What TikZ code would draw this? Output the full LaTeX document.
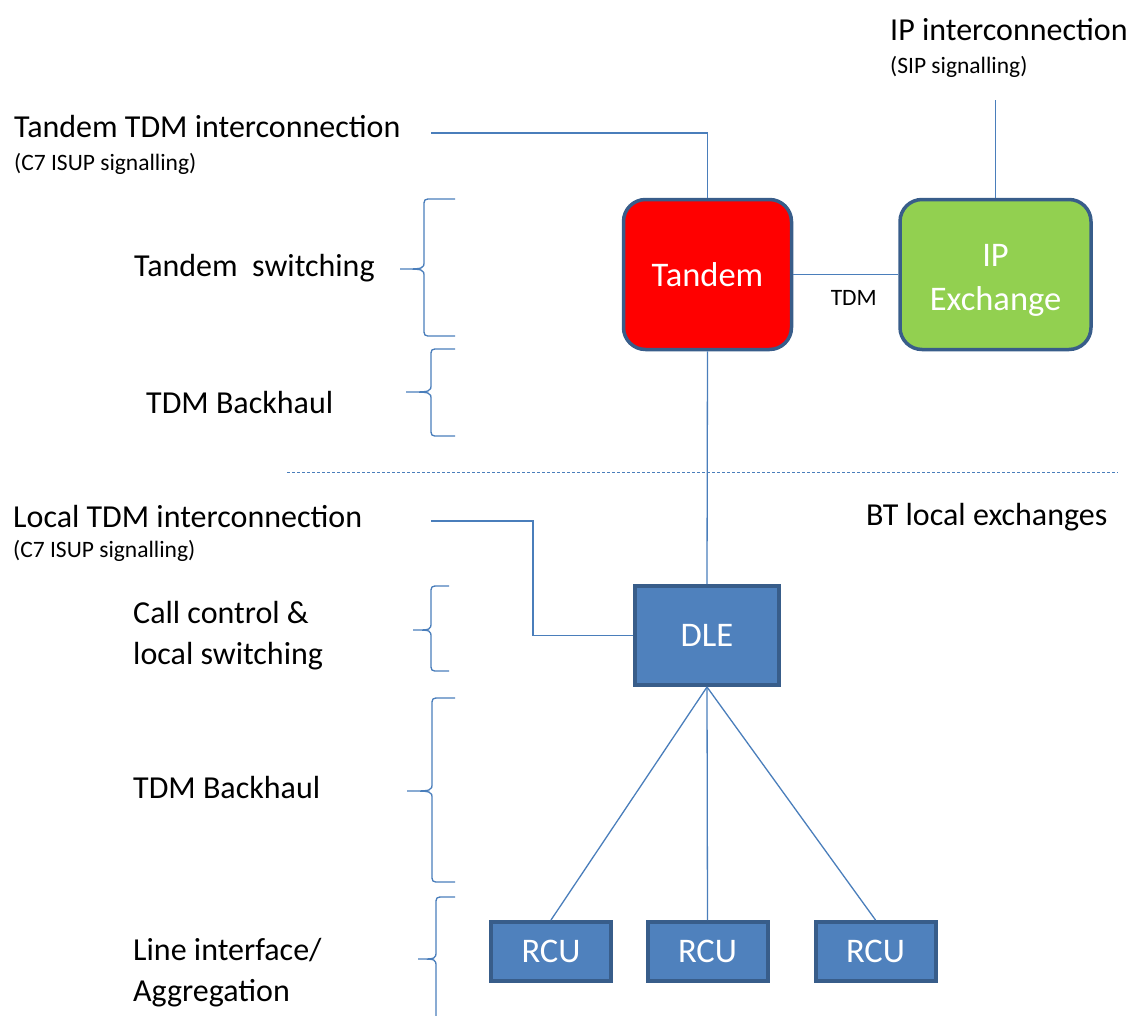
\documentclass[tikz,border=0pt]{standalone}
\usepackage{fontspec}
\setmainfont{Carlito}
\usetikzlibrary{positioning}
\definecolor{linkblue}{RGB}{74,126,187}
\definecolor{edgeblue}{RGB}{56,93,138}
\definecolor{dleblue}{RGB}{79,129,189}
\definecolor{ipgreen}{RGB}{146,208,80}

% #1 arm end, #2 spine, #3 tip x, #4 top, #5 tip y, #6 bottom
\newcommand{\sidebrace}[6]{%
	\draw[wire] (#1,#4) -- (#2+8,#4) .. controls (#2,#4) .. (#2,#4+8)
		-- (#2,#5-8) .. controls (#2,#5) .. (#3,#5)
		.. controls (#2,#5) .. (#2,#5+8)
		-- (#2,#6-8) .. controls (#2,#6) .. (#2+8,#6) -- (#1,#6);}

\begin{document}
\begin{tikzpicture}[x=1pt,y=-1pt,
	wire/.style={draw=linkblue,line width=1.3pt},
	bigtxt/.style={anchor=base west,inner sep=0pt,align=left,font=\fontsize{32}{41}\selectfont},
	smalltxt/.style={anchor=base west,inner sep=0pt,font=\fontsize{23.5}{28}\selectfont},
	exchbox/.style={draw=edgeblue,line width=3.5pt,rounded corners=22pt,text=white,minimum height=150pt,align=center,font=\fontsize{34.5}{44}\selectfont},
	blockbox/.style={draw=edgeblue,line width=4pt,fill=dleblue,text=white,font=\fontsize{34.5}{41}\selectfont}]
	
	\useasboundingbox (0,0) rectangle (1130,1015);
	
	% exchanges
	\node[exchbox,fill=red,minimum width=168pt] (tandem) at (707.5,274.5) {Tandem};
	\node[exchbox,fill=ipgreen,minimum width=191pt] (ipx) at (995.5,274.5) {\rule{0pt}{34pt}IP\\Exchange};
	\node[blockbox,minimum width=144pt,minimum height=99pt] (dle) at (707,635.5) {DLE};
	
	% remote units
	\node[blockbox,minimum width=120pt,minimum height=59pt] (rcuA) at (551,951.5) {RCU};
	\node[blockbox,minimum width=120pt,minimum height=59pt] (rcuB) at (707.5,951.5) {RCU};
	\node[blockbox,minimum width=120pt,minimum height=59pt] (rcuC) at (875.5,951.5) {RCU};
	
	% interconnection ends
	\coordinate (tdmin) at (431,133);
	\coordinate (ipin) at (995.5,100);
	\coordinate (locin) at (431,521);
	\coordinate (lockink) at (533,521);
	\coordinate (sepL) at (287,472);
	\coordinate (sepR) at (1118,472);
	
	\draw[wire] (tandem.north) |- (tdmin);
	\draw[wire] (ipx.north) -- (ipin);
	\draw[wire] (tandem.east) -- node[smalltxt,anchor=north,inner sep=0pt,xshift=8pt,yshift=-15pt] (tdmlbl) {TDM} (ipx.west);
	\draw[wire] (tandem.south) -- (dle.north);
	\draw[wire] (locin) -- (lockink) |- (dle.west);
	\draw[wire] (dle.south) -- (rcuA.north);
	\draw[wire] (dle.south) -- (rcuB.north);
	\draw[wire] (dle.south) -- (rcuC.north);
	
	\draw[linkblue,line width=1pt,dash pattern=on 3pt off 2pt] (sepL) -- (sepR);
	
	% labels
	\node[bigtxt] (tandemic) at (14,137) {Tandem TDM interconnection};
	\node[smalltxt] (tandemsig) at (14,170) {(C7 ISUP signalling)};
	\node[bigtxt] (ipic) at (890,40) {IP interconnection};
	\node[smalltxt] (ipsig) at (890,73) {(SIP signalling)};
	\node[bigtxt] (tandemsw) at (134,276) {Tandem\ \ switching};
	\node[bigtxt] (backhaulA) at (146,413) {TDM Backhaul};
	\node[bigtxt] (btlocal) at (866,525) {BT local exchanges};
	\node[bigtxt] (localic) at (13,527) {Local TDM interconnection};
	\node[smalltxt] (localsig) at (13,557) {(C7 ISUP signalling)};
	\node[bigtxt] (callctl) at (133,664) {Call control \&\\local switching};
	\node[bigtxt] (backhaulB) at (133,798) {TDM Backhaul};
	\node[bigtxt] (lineif) at (133,1001) {Line interface/\\Aggregation};
	
	% braces
	\sidebrace{455}{424}{400}{199}{269}{336}
	\sidebrace{455}{431}{406}{349}{392}{436}
	\sidebrace{449}{431}{413}{586}{630}{671}
	\sidebrace{455}{432}{407}{698}{791}{882}
	\sidebrace{455}{436}{418}{897}{959}{1040}
	
\end{tikzpicture}
\end{document}
